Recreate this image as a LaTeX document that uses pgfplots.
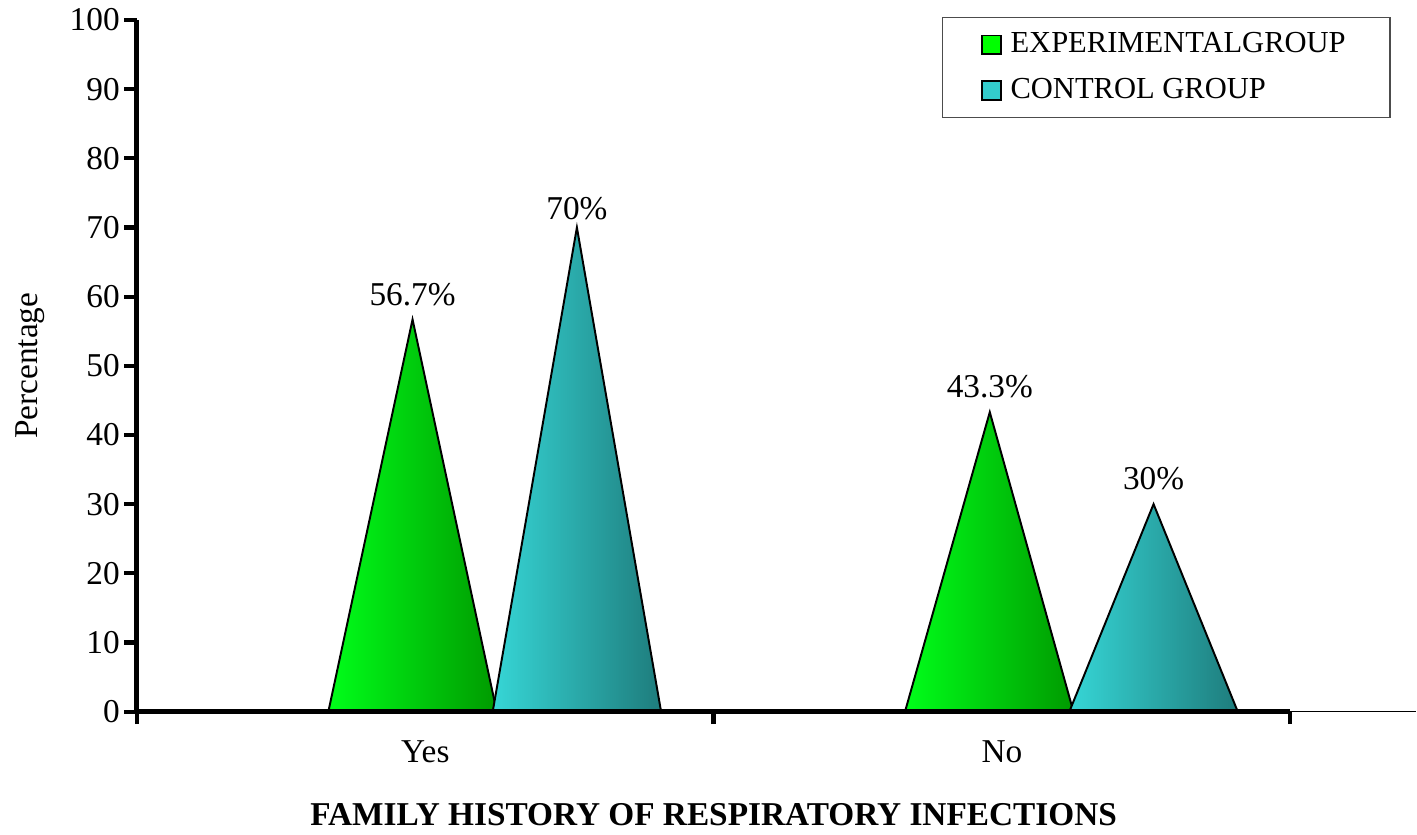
\documentclass[border=0pt]{standalone}
\usepackage{pgfplots}
\pgfplotsset{compat=1.18}
\usepackage{fontspec}
\setmainfont{Liberation Serif}

\definecolor{expL}{HTML}{00FF1A}
\definecolor{expM}{HTML}{00CC00}
\definecolor{expR}{HTML}{009A00}
\definecolor{ctlL}{HTML}{36D6D6}
\definecolor{ctlM}{HTML}{2BB0B0}
\definecolor{ctlR}{HTML}{1E7C7C}
\definecolor{legExp}{HTML}{00FF00}
\definecolor{legCtl}{HTML}{33CCCC}

\begin{document}
\begin{tikzpicture}
\begin{axis}[
    scale only axis,
    width=460.8pt, height=249.12pt,
    xmin=0, xmax=2.2184, ymin=0, ymax=100,
    axis lines=left,
    axis line style={-},
    x axis line style={line width=0.6pt},
    y axis line style={line width=1.8pt},
    clip=false,
    font=\fontsize{12}{14}\selectfont,
    /pgf/number format/assume math mode=true,
    ytick={0,10,...,100},
    xtick={0,1,2}, xticklabels={},
    extra x ticks={0.5,1.5},
    extra x tick labels={Yes,No},
    extra x tick style={major tick length=0pt, tick style={draw=none},
        xticklabel style={yshift=-7pt}},
    tick align=outside,
    major tick length=4.5pt,
    tick style={line width=1.5pt, black},
    yticklabel style={inner sep=1.5pt},
    ylabel={Percentage},
    ylabel style={at={(axis description cs:-0.0836,0.5)}, anchor=center},
    xlabel={FAMILY HISTORY OF RESPIRATORY INFECTIONS},
    xlabel style={at={(axis description cs:0.4508,0)}, anchor=center,
        yshift=-37pt, font=\fontsize{12}{14}\selectfont\bfseries},
    legend style={at={(rel axis cs:0.629,1.0043)}, anchor=north west,
        draw=gray!60!black, line width=0.5pt, inner xsep=14pt, inner ysep=3.4pt,
        row sep=3.6pt, font=\fontsize{11}{13}\selectfont},
    legend cell align=left,
    legend image code/.code={%
        \draw[#1, draw=black, line width=0.6pt] (0pt,-3.4pt) rectangle (6.8pt,3.4pt);
        \path[draw=none, fill=none] (0pt,0pt) -- (8.3pt,0pt);},
]
% bounding frame of the picture
\path (rel axis cs:-0.10703,-0.17486) rectangle (rel axis cs:1,1.0289);

\addlegendimage{fill=legExp}
\addlegendentry{EXPERIMENTALGROUP}
\addlegendimage{fill=legCtl}
\addlegendentry{CONTROL GROUP}

% Yes
\addplot[forget plot, draw=black, line width=0.7pt, mark=none,
    left color=expL, middle color=expM, right color=expR]
    coordinates {(0.332,0) (0.478,56.7) (0.624,0)} \closedcycle;
\addplot[forget plot, draw=black, line width=0.7pt, mark=none,
    left color=ctlL, middle color=ctlM, right color=ctlR]
    coordinates {(0.617,0) (0.763,70) (0.909,0)} \closedcycle;
% No
\addplot[forget plot, draw=black, line width=0.7pt, mark=none,
    left color=expL, middle color=expM, right color=expR]
    coordinates {(1.332,0) (1.479,43.3) (1.624,0)} \closedcycle;
\addplot[forget plot, draw=black, line width=0.7pt, mark=none,
    left color=ctlL, middle color=ctlM, right color=ctlR]
    coordinates {(1.617,0) (1.763,30) (1.909,0)} \closedcycle;

\draw[line width=1.8pt] (axis cs:0,0) -- (axis cs:2,0);

\node[above, yshift=1.5pt] at (axis cs:0.478,56.7) {56.7\%};
\node[above, yshift=-1pt] at (axis cs:0.763,70) {70\%};
\node[above, yshift=1.5pt] at (axis cs:1.479,43.3) {43.3\%};
\node[above, yshift=1.5pt] at (axis cs:1.763,30) {30\%};
\end{axis}
\end{tikzpicture}
\end{document}
